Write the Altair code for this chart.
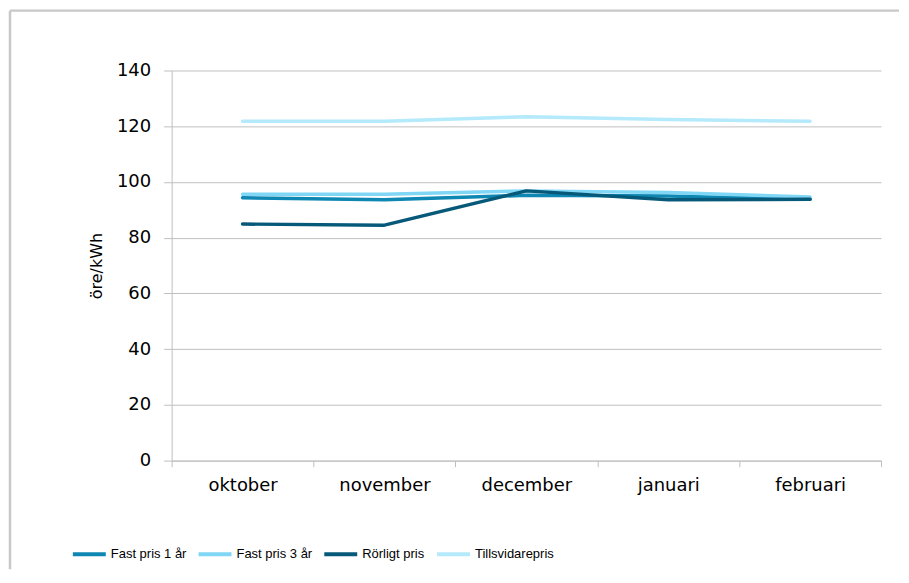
import altair as alt
import pandas as pd

months = ["oktober", "november", "december", "januari", "februari"]
series_names = ["Fast pris 1 år", "Fast pris 3 år", "Rörligt pris", "Tillsvidarepris"]
fast1 = [94.3, 93.6, 95.2, 95.0, 93.8]
fast3 = [95.6, 95.6, 96.8, 96.2, 94.6]
rorligt = [84.9, 84.5, 96.8, 93.6, 93.8]
tills = [121.8, 121.8, 123.4, 122.4, 121.8]
colors = ["#0e87b3", "#7fd6f5", "#07597a", "#b4eafb"]
y_ticks = [0, 20, 40, 60, 80, 100, 120, 140]

rows = []
for si, (name, vals) in enumerate(zip(series_names, [fast1, fast3, rorligt, tills])):
    for m, v in zip(months, vals):
        rows.append({"Månad": m, "Serie": name, "Värde": v, "ord": si})
df = pd.DataFrame(rows)

lines = alt.Chart(df).mark_line(strokeWidth=3.5, strokeJoin="round", strokeCap="round").encode(
    x=alt.X("Månad:N", sort=months,
            scale=alt.Scale(paddingInner=0, paddingOuter=0),
            axis=alt.Axis(title=None, labelAngle=0, tickBand="extent", tickSize=6,
                          labelPadding=10, labelFontSize=18, labelFont="DejaVu Sans",
                          labelColor="#000000", domainColor="#bfbfbf", tickColor="#bfbfbf",
                          grid=False)),
    y=alt.Y("Värde:Q", scale=alt.Scale(domain=[0, 140], nice=False),
            axis=alt.Axis(title="öre/kWh", values=y_ticks, tickSize=8, labelPadding=13,
                          labelFontSize=18, labelFont="DejaVu Sans", labelColor="#000000",
                          titleFont="DejaVu Sans", titleFontSize=16, titleFontWeight="normal",
                          titleColor="#000000", titlePadding=12,
                          domainColor="#bfbfbf", tickColor="#bfbfbf", gridColor="#c0c0c0")),
    color=alt.Color("Serie:N", sort=series_names,
                    scale=alt.Scale(domain=series_names, range=colors),
                    legend=alt.Legend(title=None, orient="none", direction="horizontal",
                                      legendX=-101, legendY=466, symbolType="stroke",
                                      symbolSize=1089, symbolStrokeWidth=4,
                                      labelFont="Liberation Sans", labelFontSize=13,
                                      labelColor="#000000", labelOffset=3, columnPadding=4,
                                      padding=0)),
    order=alt.Order("ord:Q"),
)

frame_df = pd.DataFrame({"k": [0]})
frame_left = alt.Chart(frame_df).mark_rule(color="#c8c8c8", strokeWidth=2.5).encode(
    x=alt.value(-162), y=alt.value(-60), y2=alt.value(500))
frame_top = alt.Chart(frame_df).mark_rule(color="#c8c8c8", strokeWidth=2.5).encode(
    x=alt.value(-162), x2=alt.value(729), y=alt.value(-60))

chart = alt.layer(frame_left, frame_top, lines).properties(
    width=711, height=391,
    padding={"top": 0, "left": 0, "right": 0, "bottom": 0},
).configure_view(stroke=None)

chart.save("out.html", embed_options={"renderer": "svg", "actions": False})
